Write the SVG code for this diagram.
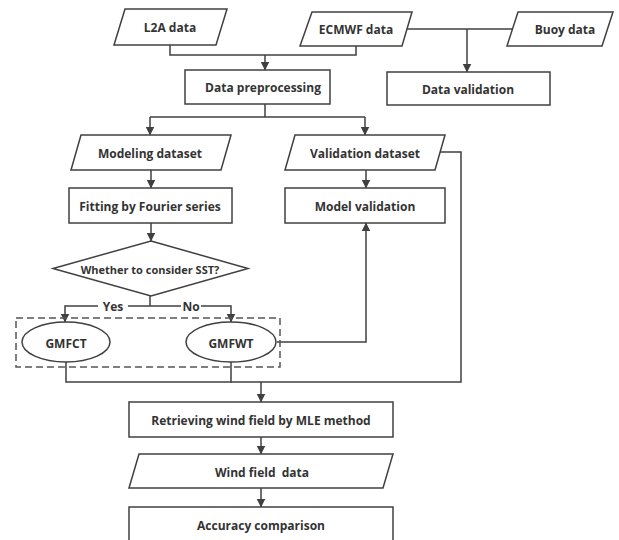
<svg xmlns="http://www.w3.org/2000/svg" width="619" height="540" viewBox="0 0 619 540">
<defs>
<marker id="ah" markerWidth="9" markerHeight="11" refX="7.5" refY="4" orient="auto" markerUnits="userSpaceOnUse" viewBox="0 0 8 8">
<path d="M0,0 L8,4 L0,8 Z" fill="#404040"/>
</marker>
<style>
.s{fill:#fff;stroke:#404040;stroke-width:1.5}
.t{font-family:"Open Sans","Liberation Sans",sans-serif;font-weight:bold;font-size:12px;fill:#333;text-anchor:middle;dominant-baseline:central}
.c{fill:none;stroke:#404040;stroke-width:1.5}
.a{marker-end:url(#ah)}
.d{fill:none;stroke:#555;stroke-width:1.5;stroke-dasharray:7,4}
</style>
</defs>
<rect width="619" height="540" fill="#fff"/>
<g id="connectors">
<polyline class="c" points="170,45 170,55 356,55 356,46"/>
<line class="c a" x1="265" y1="55" x2="265" y2="70"/>
<line class="c" x1="406" y1="29" x2="513" y2="29"/>
<line class="c a" x1="467" y1="29" x2="467" y2="72"/>
<line class="c" x1="265" y1="104" x2="265" y2="117"/>
<polyline class="c" points="150,117 365,117"/>
<line class="c a" x1="150" y1="117" x2="150" y2="135"/>
<line class="c a" x1="365" y1="117" x2="365" y2="135"/>
<line class="c a" x1="151" y1="170" x2="151" y2="188"/>
<line class="c a" x1="366" y1="170" x2="366" y2="188"/>
<line class="c a" x1="151" y1="223" x2="151" y2="241"/>
<line class="c" x1="150" y1="296" x2="150" y2="306"/>
<polyline class="c a" points="150,306 65,306 65,322"/>
<polyline class="c a" points="150,306 231,306 231,322"/>
<polyline class="c" points="439,152 461,152 461,382 231,382"/>
<polyline class="c a" points="277,342 366,342 366,223"/>
<polyline class="c" points="66,362 66,382 231,382 231,362"/>
<line class="c a" x1="261" y1="382" x2="261" y2="402"/>
<line class="c a" x1="261" y1="437" x2="261" y2="454"/>
<line class="c a" x1="261" y1="488" x2="261" y2="507"/>
<rect x="98" y="299" width="30" height="14" fill="#fff"/>
<rect x="181" y="299" width="20" height="14" fill="#fff"/>
<text class="t" x="113" y="306">Yes</text>
<text class="t" x="191" y="306">No</text>
</g>
<g id="l2a"><polygon class="s" points="125,9 227,9 216,45 114,45"/><text class="t" x="170" y="27">L2A data</text></g>
<g id="ecmwf"><polygon class="s" points="312,12 412,12 402,46 300,46"/><text class="t" x="356" y="29">ECMWF data</text></g>
<g id="buoy"><polygon class="s" points="518,12 613,12 602,46 507,46"/><text class="t" x="565" y="29">Buoy data</text></g>
<g id="preproc"><rect class="s" x="185" y="70" width="145" height="34"/><text class="t" x="263" y="87">Data preprocessing</text></g>
<g id="dataval"><rect class="s" x="387" y="72" width="163" height="33"/><text class="t" x="468" y="89">Data validation</text></g>
<g id="modeling"><polygon class="s" points="81,135 231,135 221,170 71,170"/><text class="t" x="150" y="153">Modeling dataset</text></g>
<g id="valdata"><polygon class="s" points="295,135 445,135 435,170 285,170"/><text class="t" x="365" y="153">Validation dataset</text></g>
<g id="fitting"><rect class="s" x="69" y="188" width="163" height="35"/><text class="t" x="150" y="206">Fitting by Fourier series</text></g>
<g id="modelval"><rect class="s" x="285" y="188" width="160" height="35"/><text class="t" x="365" y="206">Model validation</text></g>
<g id="decision"><polygon class="s" points="151,241 248,268.5 151,296 53,268.5"/><text class="t" x="150" y="269" style="font-size:11px">Whether to consider SST?</text></g>
<g id="group"><rect class="d" x="16" y="318" width="264" height="49"/></g>
<g id="gmfct"><ellipse class="s" cx="66" cy="342" rx="44" ry="20"/><text class="t" x="66" y="343">GMFCT</text></g>
<g id="gmfwt"><ellipse class="s" cx="231" cy="342" rx="45" ry="20"/><text class="t" x="231" y="343">GMFWT</text></g>
<g id="retrieve"><rect class="s" x="129" y="402" width="264" height="35"/><text class="t" x="261" y="420">Retrieving wind field by MLE method</text></g>
<g id="wind"><polygon class="s" points="139,454 393,454 383,488 129,488"/><text class="t" x="262" y="472" xml:space="preserve">Wind field  data</text></g>
<g id="accuracy"><rect class="s" x="129" y="507" width="264" height="40"/><text class="t" x="261" y="525">Accuracy comparison</text></g>
</svg>
